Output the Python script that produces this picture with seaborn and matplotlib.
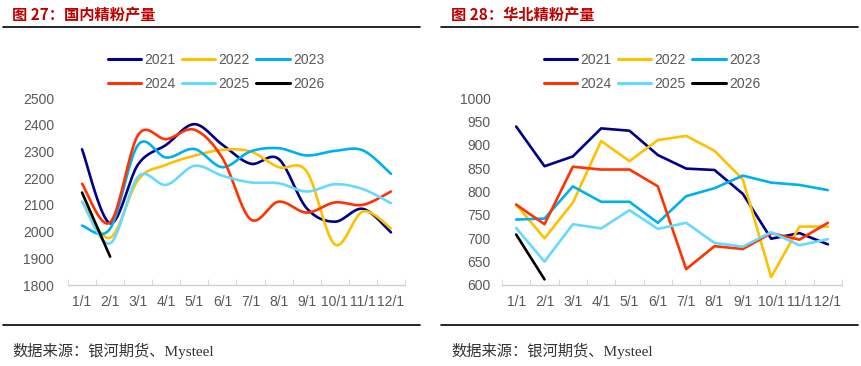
import numpy as np
import pandas as pd
import matplotlib
matplotlib.use("Agg")
import matplotlib.pyplot as plt
import seaborn as sns
from matplotlib.lines import Line2D

months = ["1/1", "2/1", "3/1", "4/1", "5/1", "6/1", "7/1", "8/1", "9/1", "10/1", "11/1", "12/1"]
years = ["2021", "2022", "2023", "2024", "2025", "2026"]
colors = ["#00008B", "#FFC000", "#00B0F0", "#FF3300", "#66D9FF", "#000000"]

# 国内精粉产量
dom_2021 = [2308, 2031, 2252, 2325, 2402, 2325, 2254, 2272, 2087, 2037, 2085, 1997]
dom_2022 = [2112, 1977, 2194, 2250, 2284, 2306, 2300, 2241, 2225, 1952, 2075, 2012]
dom_2023 = [2022, 2011, 2325, 2277, 2309, 2241, 2300, 2312, 2285, 2302, 2304, 2216]
dom_2024 = [2179, 2034, 2362, 2346, 2381, 2275, 2046, 2112, 2071, 2109, 2100, 2150]
dom_2025 = [2112, 1956, 2206, 2175, 2246, 2209, 2184, 2181, 2150, 2177, 2159, 2106]
dom_2026 = [2146, 1906]

# 华北精粉产量
nc_2021 = [939, 854, 875, 935, 930, 878, 849, 846, 795, 699, 711, 687]
nc_2022 = [772, 700, 776, 908, 865, 910, 919, 887, 826, 617, 725, 725]
nc_2023 = [740, 742, 811, 778, 778, 733, 790, 807, 834, 819, 814, 803]
nc_2024 = [772, 730, 853, 847, 847, 811, 634, 683, 677, 711, 697, 733]
nc_2025 = [722, 650, 730, 721, 760, 720, 733, 690, 682, 713, 685, 698]
nc_2026 = [708, 612]

dom = [dom_2021, dom_2022, dom_2023, dom_2024, dom_2025, dom_2026]
nc = [nc_2021, nc_2022, nc_2023, nc_2024, nc_2025, nc_2026]


def smooth(y, n=24):
    # Excel 风格平滑线 (Catmull-Rom -> Bezier)
    p = np.column_stack([np.arange(len(y)), np.asarray(y, float)])
    if len(p) < 3:
        return p[:, 0], p[:, 1]
    xs, ys = [], []
    for i in range(len(p) - 1):
        p0 = p[max(i - 1, 0)]
        p1 = p[i]
        p2 = p[i + 1]
        p3 = p[min(i + 2, len(p) - 1)]
        c1 = p1 + (p2 - p0) / 6
        c2 = p2 - (p3 - p1) / 6
        t = np.linspace(0, 1, n)[:, None]
        b = (1 - t) ** 3 * p1 + 3 * (1 - t) ** 2 * t * c1 + 3 * (1 - t) * t ** 2 * c2 + t ** 3 * p2
        xs.append(b[:, 0])
        ys.append(b[:, 1])
    return np.concatenate(xs), np.concatenate(ys)


sns.set_style("white")
plt.rcParams["font.family"] = ["Liberation Sans", "Noto Sans CJK SC", "DejaVu Sans"]

fig = plt.figure(figsize=(8.62, 3.66), dpi=100)
grey = "#595959"


def draw(ax, data, ylim, yticks, curved, ypad):
    for vals, yr, c in zip(data, years, colors):
        if curved:
            xs, ys = smooth(vals)
        else:
            xs, ys = np.arange(len(vals)), np.asarray(vals)
        df = pd.DataFrame({"x": xs, "y": ys})
        sns.lineplot(data=df, x="x", y="y", ax=ax, color=c, lw=1.9,
                     sort=False, estimator=None, legend=False)
    ax.set_xlim(-0.5, 11.5)
    ax.set_ylim(*ylim)
    ax.set_yticks(yticks)
    ax.set_xticks(range(12))
    ax.set_xticklabels(months)
    ax.set_xticks(np.arange(-0.5, 12, 1), minor=True)
    ax.set_xlabel("")
    ax.set_ylabel("")
    for s in ["top", "right", "left"]:
        ax.spines[s].set_visible(False)
    ax.spines["bottom"].set_color("#D0D0D0")
    ax.spines["bottom"].set_linewidth(1.0)
    ax.tick_params(axis="x", which="major", length=0, pad=7, labelsize=10, labelcolor=grey)
    ax.tick_params(axis="x", which="minor", length=4, direction="in", color="#D0D0D0", bottom=True)
    ax.tick_params(axis="y", length=0, pad=ypad, labelsize=10, labelcolor=grey)


ax1 = fig.add_axes([68 / 862, 1 - 285 / 366, 337 / 862, 187 / 366])
draw(ax1, dom, (1800, 2500), range(1800, 2501, 100), True, 10)

ax2 = fig.add_axes([502 / 862, 1 - 285 / 366, 340 / 862, 187 / 366])
draw(ax2, nc, (600, 1000), range(600, 1001, 50), False, 8)

# 图例按行排列: 2021 2022 2023 / 2024 2025 2026
order = [0, 3, 1, 4, 2, 5]
handles = [Line2D([], [], color=colors[i], lw=2.2) for i in order]
labels = [years[i] for i in order]
for cx in [216 / 862, 652 / 862]:
    fig.legend(handles, labels, loc="center", bbox_to_anchor=(cx, 1 - 72 / 366), ncol=3,
               frameon=False, fontsize=10, handlelength=2.4, handletextpad=0.25,
               columnspacing=0.45, labelspacing=0.75, labelcolor=grey)

# 标题与分隔线
title_font = ["Noto Sans CJK SC", "DejaVu Sans"]
fig.text(12 / 862, 1 - 15 / 366, "图 27：国内精粉产量", color="#C00000", fontsize=11,
         fontweight="bold", va="center", family=title_font)
fig.text(451 / 862, 1 - 15 / 366, "图 28：华北精粉产量", color="#C00000", fontsize=11,
         fontweight="bold", va="center", family=title_font)
for x0, x1 in [(3, 420), (441, 858)]:
    for yy in [27, 325]:
        fig.add_artist(Line2D([x0 / 862, x1 / 862], [1 - yy / 366, 1 - yy / 366],
                              color="black", lw=1.2))

src_font = ["Liberation Serif", "Noto Sans CJK SC"]
fig.text(12 / 862, 1 - 351 / 366, "数据来源：银河期货、Mysteel", color="#333333", fontsize=11,
         va="center", family=src_font)
fig.text(451 / 862, 1 - 351 / 366, "数据来源：银河期货、Mysteel", color="#333333", fontsize=11,
         va="center", family=src_font)

fig.savefig("out.png", dpi=100)
